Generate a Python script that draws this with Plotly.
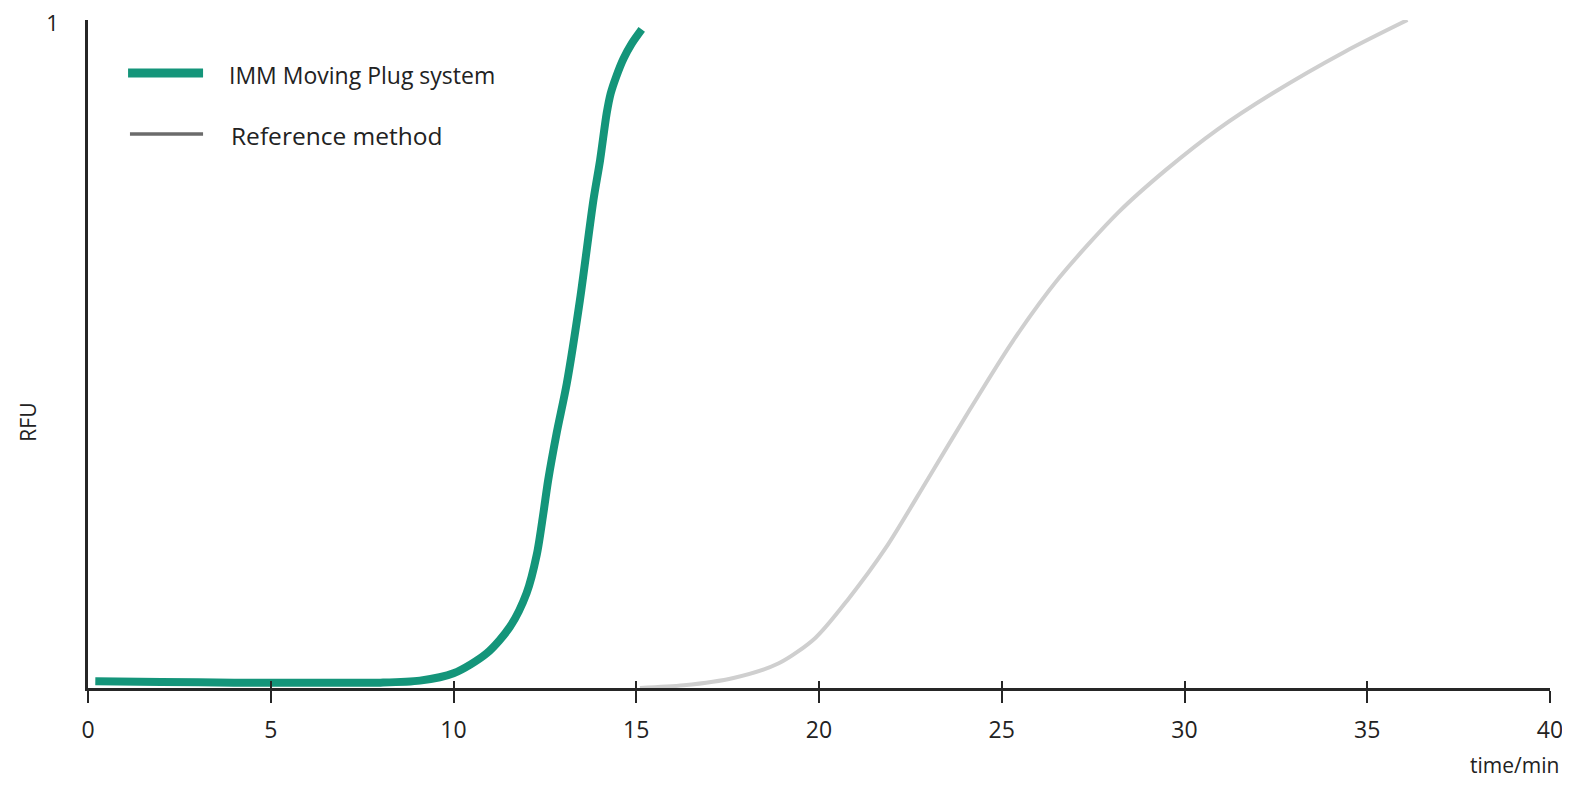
import plotly.graph_objects as go

# IMM Moving Plug system (green)
imm_t = [0.2, 2.0, 4.0, 6.0, 8.0, 9.08, 10.0, 10.91, 11.55, 12.0, 12.28, 12.46, 12.59, 12.82, 13.10, 13.46,
         13.83, 14.01, 14.19, 14.30, 14.45, 14.65, 14.88, 15.15]
imm_rfu = [0.010, 0.009, 0.008, 0.008, 0.008, 0.011, 0.022, 0.052, 0.092, 0.142, 0.20, 0.262, 0.311, 0.381,
           0.456, 0.581, 0.731, 0.790, 0.860, 0.890, 0.915, 0.942, 0.965, 0.986]

# Reference method (light grey)
ref_t = [15.1, 16.3, 17.66, 18.9, 19.9, 20.8, 21.83, 22.98, 24.14, 25.3, 26.57, 28.19, 29.5, 30.9, 32.4,
         34.4, 36.1]
ref_rfu = [0.0, 0.004, 0.015, 0.037, 0.075, 0.133, 0.21, 0.313, 0.418, 0.519, 0.614, 0.712, 0.776, 0.836,
           0.89, 0.953, 1.0]

x_ticks = [0, 5, 10, 15, 20, 25, 30, 35, 40]
series_names = ["IMM Moving Plug system", "Reference method"]

GREEN = "#14957a"
GREY = "#cfcfcf"
KEY_GREY = "#6b6b6b"
AXIS = "#262626"
TXT = "#222222"
FONT = "Open Sans"

fig = go.Figure()
fig.add_trace(go.Scatter(x=ref_t, y=ref_rfu, mode="lines", name=series_names[1],
                         line=dict(color=GREY, width=4, shape="spline", smoothing=0.8),
                         showlegend=False))
fig.add_trace(go.Scatter(x=imm_t, y=imm_rfu, mode="lines", name=series_names[0],
                         line=dict(color=GREEN, width=8, shape="spline", smoothing=0.8),
                         showlegend=False))
# dummy trace on xaxis2 so its inside ticks render (crossing tick marks)
fig.add_trace(go.Scatter(x=[None], y=[None], xaxis="x2", yaxis="y", showlegend=False, hoverinfo="skip"))

# Manual legend (long key lines as in the reference)
shapes = [
    dict(type="line", xref="paper", yref="paper", x0=0.0274, x1=0.0787, y0=0.9207, y1=0.9207,
         line=dict(color=GREEN, width=9)),
    dict(type="line", xref="paper", yref="paper", x0=0.0287, x1=0.0787, y0=0.8293, y1=0.8293,
         line=dict(color=KEY_GREY, width=3.5)),
]
annotations = [
    dict(text=series_names[0], xref="paper", yref="paper", x=0.0951, y=0.918, showarrow=False,
         xanchor="left", yanchor="middle", font=dict(size=23, color=TXT, family=FONT)),
    dict(text=series_names[1], xref="paper", yref="paper", x=0.0965, y=0.827, showarrow=False,
         xanchor="left", yanchor="middle", font=dict(size=24.5, color=TXT, family=FONT)),
    dict(text="RFU", xref="paper", yref="paper", x=-0.0407, y=0.398, showarrow=False,
         textangle=-90, font=dict(size=21, color=TXT, family=FONT), xanchor="center", yanchor="middle"),
    dict(text="time/min", xref="paper", yref="paper", x=1.0075, y=-0.1153, showarrow=False,
         xanchor="right", yanchor="middle", font=dict(size=21, color=TXT, family=FONT)),
]

fig.update_layout(
    width=1554, height=772,
    margin=dict(l=80, r=12, t=12, b=92, autoexpand=False),
    paper_bgcolor="white", plot_bgcolor="white",
    font=dict(family=FONT, size=22, color=TXT),
    showlegend=False,
    shapes=shapes,
    annotations=annotations,
    xaxis=dict(range=[0, 40], tickvals=x_ticks, ticks="outside", ticklen=12, tickwidth=2,
               tickcolor=AXIS, showline=True, linecolor=AXIS, linewidth=2.5, showgrid=False,
               zeroline=False, tickfont=dict(size=23, color=TXT, family=FONT), ticklabelstandoff=8,
               ticklabeloverflow="allow", automargin=False),
    xaxis2=dict(range=[0, 40], tickvals=x_ticks, ticks="inside", ticklen=7, tickwidth=2,
                tickcolor=AXIS, showticklabels=False, showgrid=False, zeroline=False,
                overlaying="x", anchor="y"),
    yaxis=dict(range=[0, 1], tickvals=[1], ticktext=["1"], ticks="", showline=True,
               linecolor=AXIS, linewidth=2.5, showgrid=False, zeroline=False,
               tickfont=dict(size=22, color=TXT, family=FONT), ticklabelstandoff=22,
               ticklabelshift=3, ticklabeloverflow="allow", automargin=False),
)

fig.write_html("out.html")
